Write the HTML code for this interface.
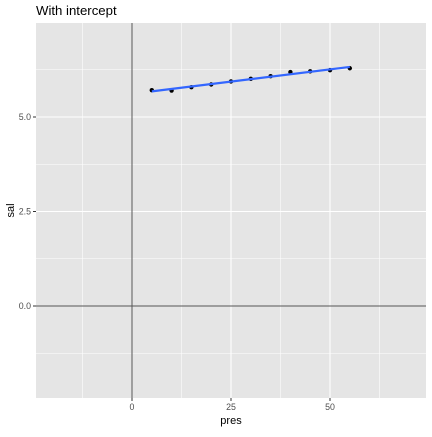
<!DOCTYPE html>
<html><head><meta charset="utf-8"><style>
body{margin:0;background:#fff;font-family:"Liberation Sans",sans-serif}
</style></head><body>
<svg id="c" width="432" height="432" xmlns="http://www.w3.org/2000/svg"></svg>
<script>
const xs=[5,10,15,20,25,30,35,40,45,50,55];
const ys=[5.71,5.70,5.79,5.86,5.94,6.01,6.08,6.19,6.21,6.24,6.29];
const xTicks=[0,25,50];
const yTicks=[0,2.5,5];
const xTickLabels=["0","25","50"];
const yTickLabels=["0.0","2.5","5.0"];
const L=36,R=426,T=23,B=398;
const xmin=-24.24,xmax=74.24,ymin=-2.434,ymax=7.487;
const X=v=>L+(v-xmin)/(xmax-xmin)*(R-L);
const Y=v=>B-(v-ymin)/(ymax-ymin)*(B-T);
const s=document.getElementById('c');const NS='http://www.w3.org/2000/svg';
function el(t,a,name,p){const e=document.createElementNS(NS,t);for(const k in a)e.setAttribute(k,a[k]);


(p||s).appendChild(e);return e;}
el('rect',{x:L,y:T,width:R-L,height:B-T,fill:'#e5e5e5'},'plot-panel');
for(let v=-25;v<=75;v+=12.5){const px=X(v);if(px<L||px>R)continue;const major=v%25===0;
el('line',{x1:px,x2:px,y1:T,y2:B,stroke:'#fff','stroke-width':major?1.1:0.55},major?'x-gridline':'x-minor-gridline');}
for(let v=-2.5;v<=7.5;v+=1.25){const py=Y(v);if(py<T||py>B)continue;const major=Math.abs(v/2.5-Math.round(v/2.5))<1e-6;
el('line',{x1:L,x2:R,y1:py,y2:py,stroke:'#fff','stroke-width':major?1.1:0.55},major?'y-gridline':'y-minor-gridline');}
el('line',{x1:L,x2:R,y1:Y(0),y2:Y(0),stroke:'#555','stroke-width':1},'hline-zero');
el('line',{x1:X(0),x2:X(0),y1:T,y2:B,stroke:'#555','stroke-width':1},'vline-zero');
// regression
const n=xs.length,mx=xs.reduce((a,b)=>a+b)/n,my=ys.reduce((a,b)=>a+b)/n;
let sxy=0,sxx=0;xs.forEach((x,i)=>{sxy+=(x-mx)*(ys[i]-my);sxx+=(x-mx)**2});
const b=sxy/sxx,a=my-b*mx,x0=Math.min(...xs),x1=Math.max(...xs);
xs.forEach((x,i)=>el('circle',{cx:X(x),cy:Y(ys[i]),r:2.2,fill:'#000'},'data-point'));
el('line',{x1:X(x0),y1:Y(a+b*x0),x2:X(x1),y2:Y(a+b*x1),stroke:'#3366ff','stroke-width':2.2},'fit-line');
xTicks.forEach((v,i)=>{el('line',{x1:X(v),x2:X(v),y1:B,y2:B+3,stroke:'#333'},'x-tick');
const t=el('text',{x:X(v),y:B+12,'font-size':8.8,fill:'#4d4d4d','text-anchor':'middle'},'x-tick-label');t.textContent=xTickLabels[i];});
yTicks.forEach((v,i)=>{el('line',{x1:L-3,x2:L,y1:Y(v),y2:Y(v),stroke:'#333'},'y-tick');
const t=el('text',{x:L-5,y:Y(v)+3,'font-size':8.8,fill:'#4d4d4d','text-anchor':'end'},'y-tick-label');t.textContent=yTickLabels[i];});
let t=el('text',{x:(L+R)/2,y:424,'font-size':11,fill:'#000','text-anchor':'middle'},'x-axis-title');t.textContent='pres';
t=el('text',{x:14,y:(T+B)/2,'font-size':11,fill:'#000','text-anchor':'middle',transform:`rotate(-90 14 ${(T+B)/2})`},'y-axis-title');t.textContent='sal';
t=el('text',{x:36,y:15,'font-size':13.2,fill:'#000'},'chart-title');t.textContent='With intercept';
</script>
</body></html>
